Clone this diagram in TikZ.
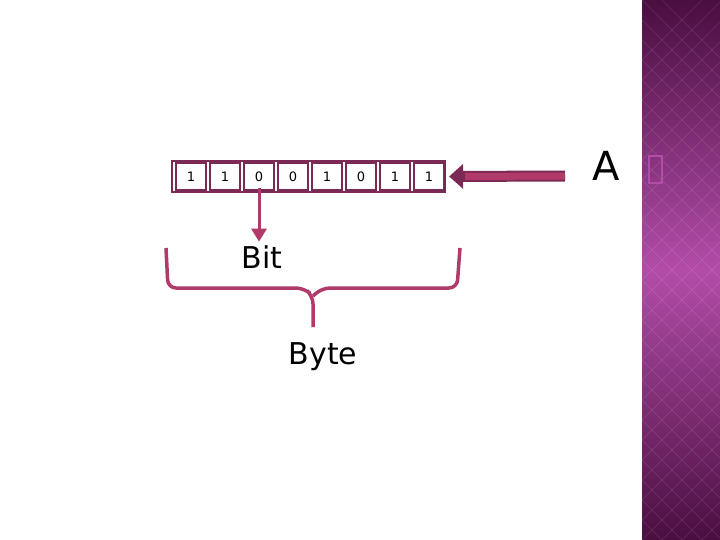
\documentclass[tikz,border=0pt]{standalone}
\usepackage{fontspec}
\usetikzlibrary{arrows.meta}
\setmainfont{DejaVu Sans}
\begin{document}
\begin{tikzpicture}[x=1pt,y=-1pt,
  cell/.style={draw=frame,line width=2.2pt,minimum width=30pt,minimum height=27pt,inner sep=0pt,font=\fontsize{13}{13}\selectfont},
  acc/.style={draw=accent,line width=3.5pt}]
\definecolor{frame}{HTML}{7A2A55}
\definecolor{accent}{HTML}{B03A6A}
\definecolor{pdark}{HTML}{4A0E40}
\definecolor{pmid}{HTML}{B24CA8}
\useasboundingbox (0,0) rectangle (720,540);
\fill[white] (0,0) rectangle (720,540);
% right panel
\shade[top color=pdark,bottom color=pmid] (642,0) rectangle (720,270);
\shade[top color=pmid,bottom color=pdark] (642,270) rectangle (720,540);
\begin{scope}
\clip (642,0) rectangle (720,540);
\foreach \i in {-20,0,...,560} {
  \draw[white,opacity=0.12] (642,\i) -- (722,\i+80);
  \draw[white,opacity=0.12] (642,\i+80) -- (722,\i);
}
\end{scope}
% bits
\draw[frame,line width=2.2pt] (172,161) rectangle (445,192);
\foreach \b [count=\k] in {1,1,0,0,1,0,1,1}
  \node[cell] (c\k) at (157+34*\k,176.5) {\b};
% big arrow
\node[font=\fontsize{40}{40}\selectfont,anchor=base] (A) at (606,181) {A};
\draw[pmid,line width=2pt] (649,156) rectangle (662,183);
\coordinate (as) at (565,176);
\draw[frame,line width=11pt,-{Triangle[width=24pt,length=14pt]}] (as) -- ([xshift=4pt]c8.east);
\draw[accent,line width=7pt] (as) -- ([xshift=20pt]c8.east);
% Bit
\node[font=\fontsize{30}{30}\selectfont,anchor=base] (bit) at (262,268) {Bit};
\draw[accent,line width=3pt,-{Triangle[width=15pt,length=13pt]}] ([yshift=3pt]c3.south) -- (bit.north -| c3.south);
% brace
\draw[acc,rounded corners=8pt] (166,248) -- (168,288) -- (304,288) -- (313,296) -- (313,327);
\draw[acc,rounded corners=8pt] (460,248) -- (457,288) -- (322,288) -- (313,296);
\node[font=\fontsize{30}{30}\selectfont,anchor=base] (byte) at (323,364) {Byte};
\end{tikzpicture}
\end{document}
